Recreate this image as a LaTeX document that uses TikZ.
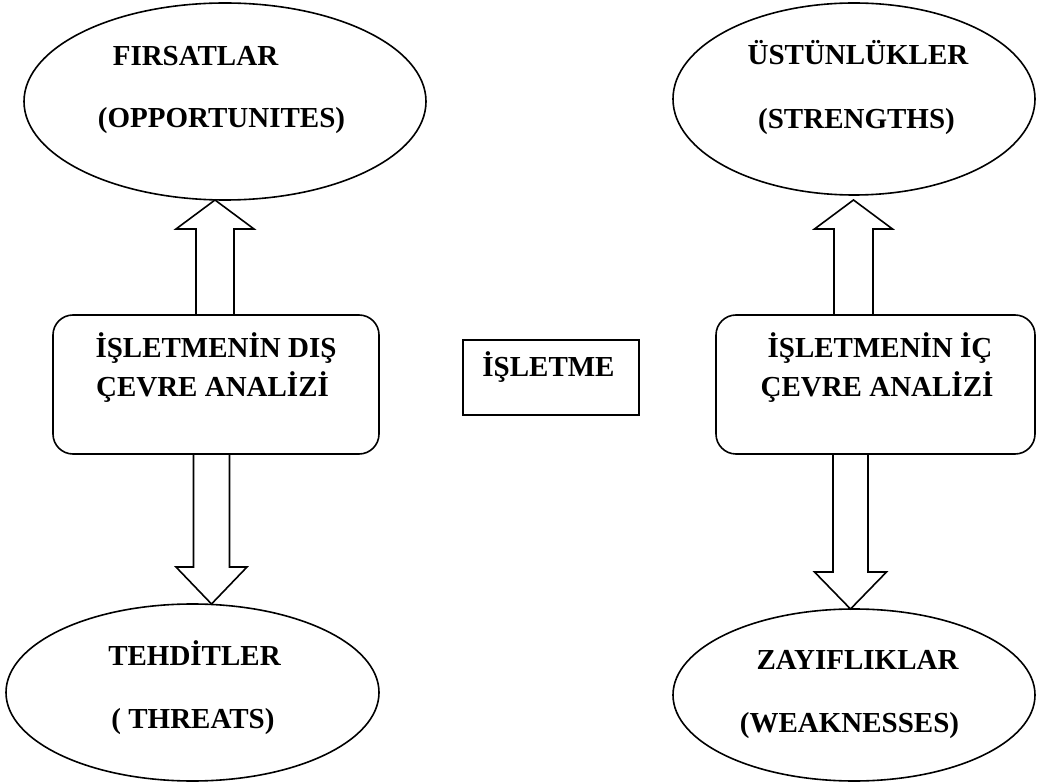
\documentclass[tikz,border=0pt]{standalone}
\usepackage{fontspec}
\setmainfont{Liberation Serif}
\usetikzlibrary{shapes.geometric,calc}

\tikzset{
  shapeline/.style={draw=black, line width=1.6pt},
  oval/.style={shapeline, ellipse, inner sep=0pt},
  roundbox/.style={shapeline, rectangle, rounded corners=20pt, inner sep=0pt},
  plainbox/.style={shapeline, rectangle, inner sep=0pt},
  label/.style={anchor=base, inner sep=0pt, font=\fontsize{29}{35}\selectfont\bfseries},
  blockarrow/.style={draw=black, line width=1.6pt, line join=miter}
}

\begin{document}
\begin{tikzpicture}[x=1pt, y=-1pt]
\useasboundingbox (0,0) rectangle (1037,783);

% outer ellipses
\node[oval, minimum width=402pt, minimum height=197pt] (firsat) at (225,101.5) {};
\node[oval, minimum width=362pt, minimum height=192pt] (ustun) at (854,99) {};
\node[oval, minimum width=373pt, minimum height=177pt] (tehdit) at (192.5,692.5) {};
\node[oval, minimum width=362pt, minimum height=172pt] (zayif) at (854,695) {};

% analysis boxes and the firm in the middle
\node[roundbox, minimum width=326pt, minimum height=139pt] (dis) at (216,384.5) {};
\node[roundbox, minimum width=319pt, minimum height=139pt] (ic) at (875.5,384.5) {};
\node[plainbox, minimum width=176pt, minimum height=75pt] (isletme) at (551,377.5) {};

% texts
\node[label] (t1) at (195.5,66) {FIRSATLAR};
\node[label] (t2) at (221.5,128) {(OPPORTUNITES)};
\node[label] (t3) at (858,65) {ÜSTÜNLÜKLER};
\node[label] (t4) at (856.5,129) {(STRENGTHS)};
\node[label] (t5) at (216,358) {İŞLETMENİN DIŞ};
\node[label] (t6) at (212.5,397) {ÇEVRE ANALİZİ};
\node[label] (t7) at (548.5,377) {İŞLETME};
\node[label] (t8) at (880,358) {İŞLETMENİN İÇ};
\node[label] (t9) at (877,397) {ÇEVRE ANALİZİ};
\node[label] (t10) at (194.5,665) {TEHDİTLER};
\node[label] (t11) at (193,728) {( THREATS)};
\node[label] (t12) at (857.5,669) {ZAYIFLIKLAR};
\node[label] (t13) at (849.5,732) {(WEAKNESSES)};

% block arrow end points: base on a box edge, tip on an ellipse
\coordinate (a1s) at (dis.north -| 215,0);
\coordinate (a1t) at (215,200);
\coordinate (a2s) at (ic.north -| 853.5,0);
\coordinate (a2t) at (853.5,200);
\coordinate (a3s) at (dis.south -| 211.5,0);
\coordinate (a3t) at (211.5,604);
\coordinate (a4s) at (ic.south -| 850.5,0);
\coordinate (a4t) at (850.5,609);

% upward block arrows
\draw[blockarrow] ($(a1s)+(-19,0)$) -- ($(a1t)+(-19,29)$) -- ($(a1t)+(-39,29)$)
  -- (a1t) -- ($(a1t)+(39,29)$) -- ($(a1t)+(19,29)$) -- ($(a1s)+(19,0)$);
\draw[blockarrow] ($(a2s)+(-19.5,0)$) -- ($(a2t)+(-19.5,29)$) -- ($(a2t)+(-39,29)$)
  -- (a2t) -- ($(a2t)+(39,29)$) -- ($(a2t)+(19.5,29)$) -- ($(a2s)+(19.5,0)$);

% downward block arrows
\draw[blockarrow] ($(a3s)+(-18,0)$) -- ($(a3t)+(-18,-37)$) -- ($(a3t)+(-35.5,-37)$)
  -- (a3t) -- ($(a3t)+(35.5,-37)$) -- ($(a3t)+(18,-37)$) -- ($(a3s)+(18,0)$);
\draw[blockarrow] ($(a4s)+(-17.5,0)$) -- ($(a4t)+(-17.5,-37)$) -- ($(a4t)+(-36,-37)$)
  -- (a4t) -- ($(a4t)+(36,-37)$) -- ($(a4t)+(17.5,-37)$) -- ($(a4s)+(17.5,0)$);
\end{tikzpicture}
\end{document}
